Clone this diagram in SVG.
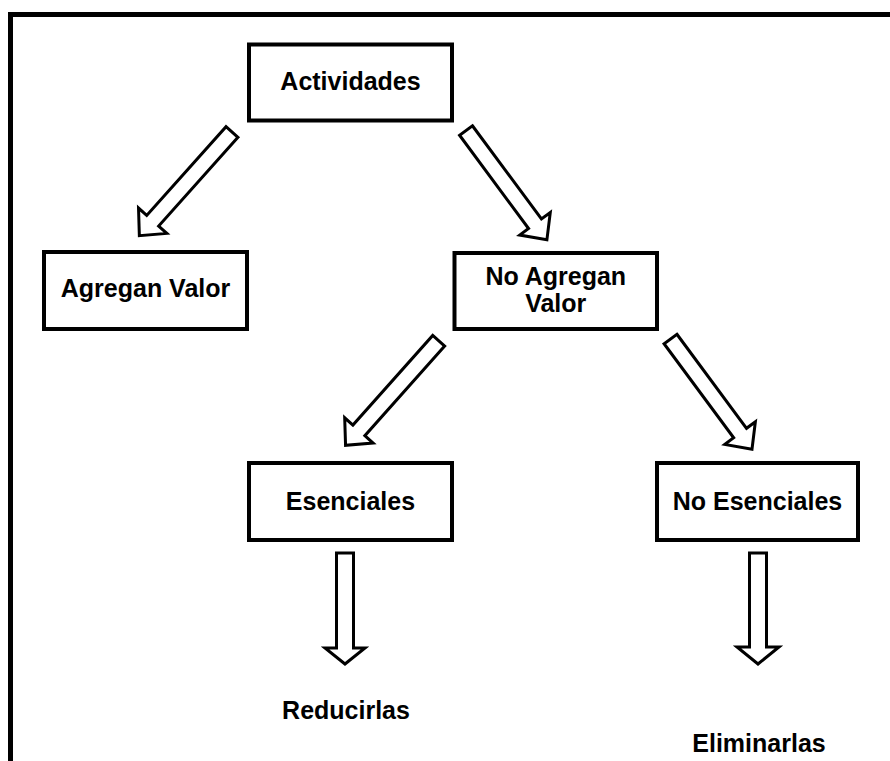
<svg xmlns="http://www.w3.org/2000/svg" width="890" height="761" viewBox="0 0 890 761">
  <style>
    .frame { fill: none; stroke: #000; stroke-width: 5; }
    .box { fill: #fff; stroke: #000; stroke-width: 4; }
    .label { font-family: "Liberation Sans", Arial, sans-serif; font-weight: bold; font-size: 25px; fill: #000; text-anchor: middle; }
    .arrow { fill: #fff; stroke: #000; stroke-width: 3; stroke-linejoin: miter; }
  </style>
  <rect width="890" height="761" fill="#fff"/>
  <!-- outer frame, open to the right and bottom -->
  <rect class="frame" x="10.5" y="14.5" width="900" height="780"/>

  <!-- block arrows -->
  <g id="connectors">
    <g transform="translate(232,132) rotate(131.8)">
      <polygon class="arrow" points="0,-8 119,-8 119,-19 139,0 119,19 119,8 0,8"/>
    </g>
    <g transform="translate(466,130.5) rotate(53.5)">
      <polygon class="arrow" points="0,-8 116,-8 116,-19 136,0 116,19 116,8 0,8"/>
    </g>
    <g transform="translate(438.7,340.8) rotate(131.7)">
      <polygon class="arrow" points="0,-8 120,-8 120,-19 140,0 120,19 120,8 0,8"/>
    </g>
    <g transform="translate(670.5,339) rotate(53.5)">
      <polygon class="arrow" points="0,-8 117,-8 117,-19 137,0 117,19 117,8 0,8"/>
    </g>
    <polygon class="arrow" points="336.5,553 353.5,553 353.5,648 365,648 345,664 325,648 336.5,648"/>
    <polygon class="arrow" points="749.5,553 766.5,553 766.5,647 779,647 758,664 737,647 749.5,647"/>
  </g>

  <g id="actividades">
    <rect class="box" x="249" y="44.5" width="203" height="76"/>
    <text class="label" x="350.5" y="90">Actividades</text>
  </g>
  <g id="agregan-valor">
    <rect class="box" x="44" y="252" width="203" height="77"/>
    <text class="label" x="145.5" y="297">Agregan Valor</text>
  </g>
  <g id="no-agregan-valor">
    <rect class="box" x="454.5" y="253" width="202.5" height="76"/>
    <text class="label" x="555.75" y="284.5">No Agregan</text>
    <text class="label" x="555.75" y="312">Valor</text>
  </g>
  <g id="esenciales">
    <rect class="box" x="249" y="463" width="203" height="77"/>
    <text class="label" x="350.5" y="510">Esenciales</text>
  </g>
  <g id="no-esenciales">
    <rect class="box" x="657" y="463" width="201" height="77"/>
    <text class="label" x="757.5" y="510">No Esenciales</text>
  </g>
  <g id="reducirlas">
    <text class="label" x="346" y="719">Reducirlas</text>
  </g>
  <g id="eliminarlas">
    <text class="label" x="759" y="752">Eliminarlas</text>
  </g>
</svg>
